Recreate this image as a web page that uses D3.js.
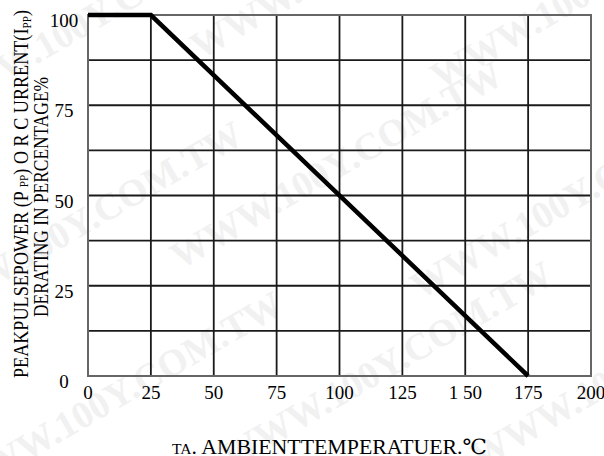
<!DOCTYPE html>
<html>
<head>
<meta charset="utf-8">
<script src="https://cdn.jsdelivr.net/npm/d3@7"></script>
<style>
  body { margin: 0; background: #fff; }
  text { font-family: "Liberation Serif", "DejaVu Serif", serif; }
</style>
</head>
<body>
<div id="chart"></div>
<script>
var w = 604;
var h = 456;

// data
var temps = [0, 25, 175];
var derating = [100, 100, 0];
var xTicks = [0, 25, 50, 75, 100, 125, 150, 175, 200];
var xTickLabels = ["0", "25", "50", "75", "100", "125", "1 50", "175", "200"];
var yTicks = [0, 25, 50, 75, 100];
var yGrid = [0, 12.5, 25, 37.5, 50, 62.5, 75, 87.5, 100];

var padL = 88, padR = 591, padT = 15, padB = 376;

var svg = d3.select("#chart")
    .append("svg")
    .attr("width", w)
    .attr("height", h);

var x = d3.scaleLinear().domain([0, 200]).range([padL, padR]);
var y = d3.scaleLinear().domain([0, 100]).range([padB, padT]);

//watermark
var wm = svg.append("g").attr("fill", "#f1f1f1")
    .style("font-weight", "bold").style("font-size", "38px");
[[-60, 120], [-80, 330], [-40, 500], [200, 60], [180, 270], [230, 470], [440, 90], [420, 300], [480, 470]]
    .forEach(function (p) {
        wm.append("text")
            .attr("transform", "translate(" + p[0] + "," + p[1] + ") rotate(-30)")
            .text("WWW.100Y.COM.TW");
    });

//grid
svg.append("g").selectAll("line")
    .data(xTicks.slice(1, -1))
    .enter().append("line")
    .attr("x1", function (d) { return x(d); })
    .attr("x2", function (d) { return x(d); })
    .attr("y1", padT).attr("y2", padB)
    .attr("stroke", "#1a1a1a").attr("stroke-width", 1.8);

svg.append("g").selectAll("line")
    .data(yGrid.slice(1, -1))
    .enter().append("line")
    .attr("y1", function (d) { return y(d); })
    .attr("y2", function (d) { return y(d); })
    .attr("x1", padL).attr("x2", padR)
    .attr("stroke", "#1a1a1a").attr("stroke-width", 1.8);

svg.append("rect")
    .attr("x", padL).attr("y", padT)
    .attr("width", padR - padL).attr("height", padB - padT)
    .attr("fill", "none").attr("stroke", "#666").attr("stroke-width", 2);

//data line
var line = d3.line()
    .x(function (d) { return x(d[0]); })
    .y(function (d) { return y(d[1]); });
svg.append("path")
    .datum(d3.zip(temps, derating))
    .attr("d", line)
    .attr("fill", "none")
    .attr("stroke", "#000")
    .attr("stroke-width", 4.5);

//tick labels
svg.append("g").selectAll("text")
    .data(xTicks)
    .enter().append("text")
    .attr("x", function (d) { return x(d); })
    .attr("y", 399)
    .attr("text-anchor", "middle")
    .style("font-size", "19px")
    .text(function (d, i) { return xTickLabels[i]; });

svg.append("g").selectAll("text")
    .data(yTicks)
    .enter().append("text")
    .attr("x", 64)
    .attr("y", function (d) { return y(d) + 12; })
    .attr("text-anchor", "middle")
    .style("font-size", "19px")
    .text(function (d) { return d; });

//axis titles
var yl1 = svg.append("text")
    .attr("transform", "translate(28,378) rotate(-90)")
    .attr("textLength", 368)
    .attr("lengthAdjust", "spacingAndGlyphs")
    .style("font-size", "21px");
yl1.append("tspan").text("PEAKPULSEPOWER (P ");
yl1.append("tspan").style("font-size", "13px").text("PP");
yl1.append("tspan").text(") O R C URRENT(I");
yl1.append("tspan").style("font-size", "13px").attr("dy", 3).text("PP");
yl1.append("tspan").attr("dy", -3).text(")");

svg.append("text")
    .attr("transform", "translate(48,317) rotate(-90)")
    .attr("textLength", 240)
    .attr("lengthAdjust", "spacingAndGlyphs")
    .style("font-size", "21px")
    .text("DERATING IN PERCENTAGE%");

var xl = svg.append("text")
    .attr("x", 172).attr("y", 454)
    .attr("textLength", 315)
    .attr("lengthAdjust", "spacingAndGlyphs")
    .style("font-size", "21px");
xl.append("tspan").style("font-size", "15px").text("TA");
xl.append("tspan").text(". AMBIENTTEMPERATUER.℃");
</script>
</body>
</html>
